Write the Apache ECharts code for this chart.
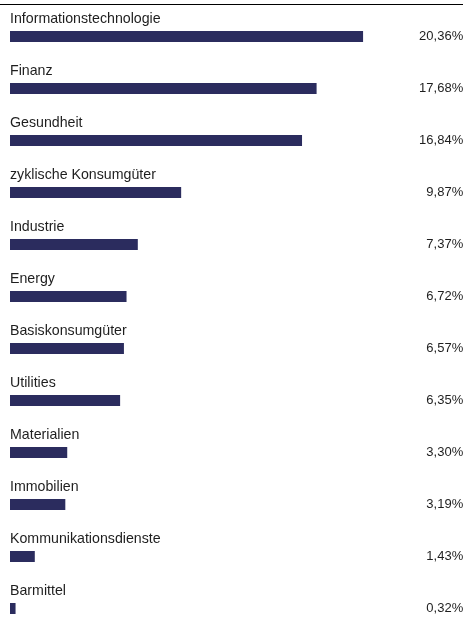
<!DOCTYPE html>
<html>
<head>
<meta charset="utf-8">
<script src="https://cdn.jsdelivr.net/npm/echarts@6/dist/echarts.min.js"></script>
<style>
html,body{margin:0;padding:0;background:#fff;}
#main{width:466px;height:619px;}
</style>
</head>
<body>
<div id="main"></div>
<script>
const categories = ["Informationstechnologie","Finanz","Gesundheit","zyklische Konsumgüter","Industrie","Energy","Basiskonsumgüter","Utilities","Materialien","Immobilien","Kommunikationsdienste","Barmittel"];
const values = [20.36,17.68,16.84,9.87,7.37,6.72,6.57,6.35,3.30,3.19,1.43,0.32];
const valueLabels = values.map(v => v.toFixed(2).replace('.', ',') + '%');

const chart = echarts.init(document.getElementById('main'), null, {renderer:'canvas'});
chart.setOption({
  animation:false,
  backgroundColor:'#ffffff',
  grid:{left:10, top:10.5, height:624, right:39.8, containLabel:false, outerBoundsMode:'none'},
  xAxis:{type:'value', min:0, max:24, show:false},
  yAxis:[
    {type:'category', data:categories, inverse:true,
     axisLine:{show:false}, axisTick:{show:false}, splitLine:{show:false},
     axisLabel:{inside:true, margin:0, align:'left', verticalAlign:'middle',
       interval:0, showMinLabel:true, showMaxLabel:true, hideOverlap:false,
       lineHeight:34, formatter:(v) => v + '\n ',
       color:'#1e1e1e', fontSize:14.2, fontFamily:'Liberation Sans, Arial, sans-serif'}},
    {type:'category', data:valueLabels, inverse:true, position:'right',
     axisLine:{show:false}, axisTick:{show:false}, splitLine:{show:false},
     axisLabel:{margin:37, align:'right', verticalAlign:'middle',
       interval:0, showMinLabel:true, showMaxLabel:true, hideOverlap:false,
       color:'#1e1e1e', fontSize:13, fontFamily:'Liberation Sans, Arial, sans-serif'}}
  ],
  series:[{type:'bar', data:values, barWidth:11, yAxisIndex:0,
    itemStyle:{color:'#2b2c5e'}, silent:true}],
  graphic:[{type:'line', shape:{x1:0, y1:4.5, x2:463, y2:4.5}, style:{stroke:'#000', lineWidth:1.2}}]
});
</script>
</body>
</html>
